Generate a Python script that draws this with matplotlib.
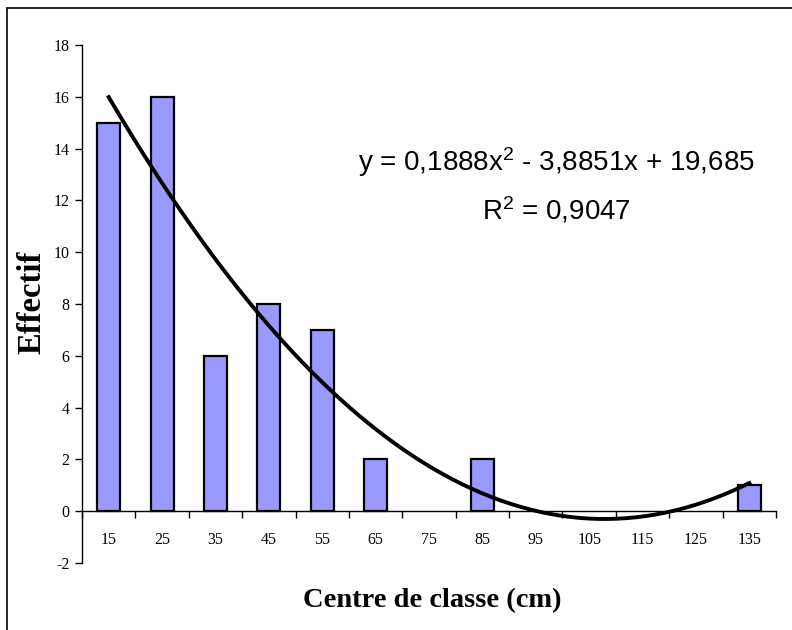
import numpy as np
import matplotlib
matplotlib.use("Agg")
import matplotlib.pyplot as plt
from matplotlib.patches import Rectangle

# Effectifs par centre de classe (cm)
centres = [15, 25, 35, 45, 55, 65, 75, 85, 95, 105, 115, 125, 135]
effectifs = [15, 16, 6, 8, 7, 2, 0, 2, 0, 0, 0, 0, 1]

plt.rcParams['mathtext.fontset'] = 'custom'
plt.rcParams['mathtext.rm'] = 'Liberation Sans'
plt.rcParams['mathtext.it'] = 'Liberation Sans'

x = np.arange(1, len(centres) + 1)
y = np.array(effectifs, dtype=float)

# polynomial trendline of order 2 on the category index
coef = np.polyfit(x, y, 2)
fit = np.polyval(coef, x)
r2 = 1 - np.sum((y - fit) ** 2) / np.sum((y - y.mean()) ** 2)

fig = plt.figure(figsize=(7.92, 6.3), dpi=100)
ax = fig.add_axes([82 / 792, 1 - 563 / 630, 694 / 792, 518 / 630])

# empty classes get no outline
lw = [1.6 if v > 0 else 0 for v in y]
ax.bar(x, y, width=0.43, color='#9999FF', edgecolor='black', linewidth=lw, zorder=2)

xs = np.linspace(1, 13, 200)
ax.plot(xs, np.polyval(coef, xs), color='black', lw=2.8, zorder=3)

ax.set_xlim(0.5, 13.5)
ax.set_ylim(-2, 18)

ax.spines['top'].set_visible(False)
ax.spines['right'].set_visible(False)
ax.spines['bottom'].set_position(('data', 0))
ax.spines['left'].set_linewidth(1.0)
ax.spines['bottom'].set_linewidth(1.0)

serif = 'Liberation Serif'
ax.set_yticks(np.arange(-2, 19, 2))
ax.set_yticklabels([str(v) for v in range(-2, 19, 2)], family=serif, fontsize=11.5)
ax.tick_params(axis='y', direction='out', length=5, width=1.0, pad=4)

# boundaries get tick marks, centres get the labels
ax.set_xticks(np.arange(0.5, 14, 1))
ax.set_xticklabels([])
ax.set_xticks(x, minor=True)
ax.set_xticklabels([str(c) for c in centres], minor=True, family=serif, fontsize=11.5)
ax.tick_params(axis='x', which='major', direction='out', length=5, width=1.0)
ax.tick_params(axis='x', which='minor', length=0, pad=15)

ax.set_ylabel('Effectif', family=serif, fontsize=23.5, fontweight='bold')
ax.yaxis.set_label_coords((48 - 82) / 694, (563 - 302) / 518)
fig.text(432 / 792, 1 - 601 / 630, 'Centre de classe (cm)', family=serif, fontsize=20.5,
         fontweight='bold', ha='center', va='center')

a, b, c = coef
eq = "y = {}x$^{{2}}$ - {} + {}".format(
    f"{a:.4f}".replace('.', ','),
    f"{abs(b):.4f}".replace('.', ',') + "x",
    f"{c:.3f}".replace('.', ','))
fig.text(556 / 792, 1 - 162 / 630, eq, family='Liberation Sans', fontsize=20,
         ha='center', va='center')
fig.text(556 / 792, 1 - 210 / 630, "R$^{2}$ = " + f"{r2:.4f}".replace('.', ','),
         family='Liberation Sans', fontsize=20, ha='center', va='center')

# outer frame of the chart area
fig.patches.append(Rectangle((7 / 792, -0.1), 1.2, 1 - 8 / 630 + 0.1, transform=fig.transFigure,
                             fill=False, edgecolor='black', linewidth=1.2))

fig.savefig('out.png', dpi=100)
